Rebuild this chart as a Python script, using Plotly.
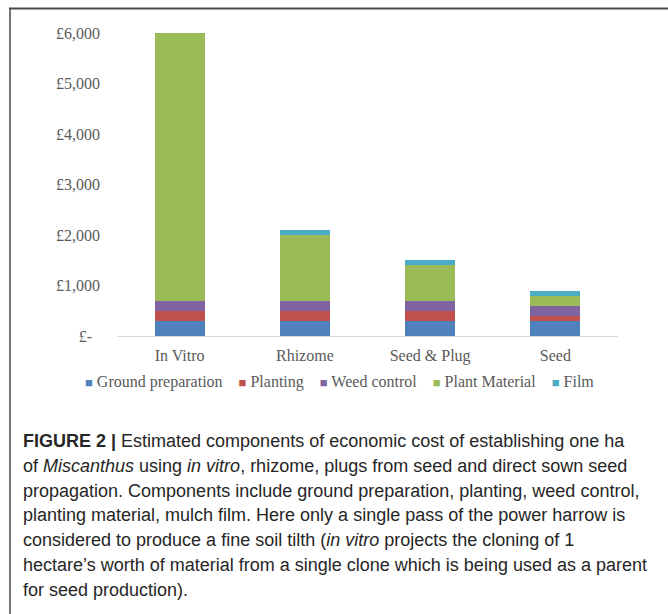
import plotly.graph_objects as go

# Establishment cost components (GBP per hectare) by propagation route
methods = ["In Vitro", "Rhizome", "Seed & Plug", "Seed"]
ground_preparation = [300, 300, 300, 300]
planting = [200, 200, 200, 100]
weed_control = [200, 200, 200, 200]
plant_material = [5300, 1300, 700, 200]
film = [10, 100, 100, 100]

series = [
    ("Ground preparation", ground_preparation, "#4F81BD"),
    ("Planting", planting, "#C0504D"),
    ("Weed control", weed_control, "#8064A2"),
    ("Plant Material", plant_material, "#9BBB59"),
    ("Film", film, "#4BACC6"),
]

tick_vals = [0, 1000, 2000, 3000, 4000, 5000, 6000]
tick_text = ["£-\u00a0\u00a0", "£1,000", "£2,000", "£3,000", "£4,000", "£5,000", "£6,000"]

caption_lines = [
    "<b>FIGURE 2 |</b> Estimated components of economic cost of establishing one ha",
    "of <i>Miscanthus</i> using <i>in vitro</i>, rhizome, plugs from seed and direct sown seed",
    "propagation. Components include ground preparation, planting, weed control,",
    "planting material, mulch film. Here only a single pass of the power harrow is",
    "considered to produce a fine soil tilth (<i>in vitro</i> projects the cloning of 1",
    "hectare’s worth of material from a single clone which is being used as a parent",
    "for seed production).",
]

W, H = 668, 614
L, R, T, B = 117, 618, 33, 336


def px(x):
    return (x - L) / (R - L)


def py(y):
    return (B - y) / (B - T)


fig = go.Figure()
for name, vals, color in series:
    fig.add_trace(go.Bar(
        x=methods, y=vals, name=name,
        marker=dict(color=color, line=dict(width=0)),
    ))

serif = "Liberation Serif, Times New Roman, serif"
sans = "Liberation Sans, Arial, sans-serif"

annotations = []
# legend row
legend_html = "\u2003".join(
    f'<span style="color:{c}; font-size:13px">■</span> {n}' for n, _, c in series
)
annotations.append(dict(
    xref="paper", yref="paper", x=px(339), y=py(382),
    xanchor="center", yanchor="middle", showarrow=False,
    text=legend_html, font=dict(family=serif, size=16, color="#595959"),
))
# figure caption
for i, line in enumerate(caption_lines):
    annotations.append(dict(
        xref="paper", yref="paper", x=px(21), y=py(441 + i * 24.8),
        xanchor="left", yanchor="middle", showarrow=False,
        text=line, font=dict(family=sans, size=18, color="#262626"),
    ))

shapes = [
    dict(type="line", xref="paper", yref="paper",
         x0=px(9), x1=px(700), y0=py(8.5), y1=py(8.5),
         line=dict(color="#4a4a4a", width=2)),
    dict(type="line", xref="paper", yref="paper",
         x0=px(10), x1=px(10), y0=py(8), y1=py(700),
         line=dict(color="#4a4a4a", width=1.5)),
]

fig.update_layout(
    width=W, height=H,
    margin=dict(l=L, r=W - R, t=T, b=H - B, pad=0),
    paper_bgcolor="white", plot_bgcolor="white",
    barmode="stack", bargap=0.6,
    showlegend=False,
    annotations=annotations,
    shapes=shapes,
    font=dict(family=serif, size=16, color="#595959"),
)
fig.update_xaxes(
    showgrid=False, showline=True, linecolor="#D9D9D9", linewidth=1,
    ticks="", ticklabelstandoff=5,
    tickfont=dict(family=serif, size=16, color="#595959"),
    fixedrange=True,
)
fig.update_yaxes(
    range=[0, 6000], showgrid=False, showline=False, zeroline=False,
    tickvals=tick_vals, ticktext=tick_text, ticks="",
    ticklabelstandoff=16,
    tickfont=dict(family=serif, size=16, color="#595959"),
    fixedrange=True,
)

fig.write_html("out.html")
